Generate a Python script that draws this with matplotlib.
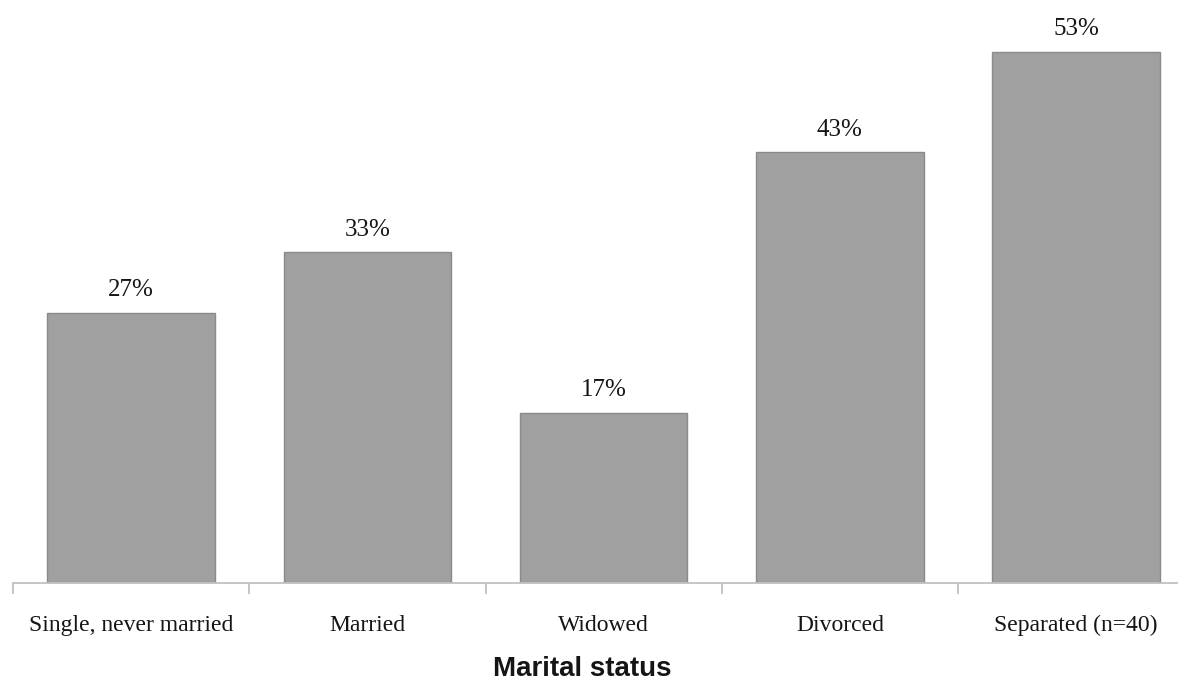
import matplotlib
matplotlib.use("Agg")
import matplotlib.pyplot as plt
from matplotlib.ticker import FixedLocator

categories = ["Single, never married", "Married", "Widowed", "Divorced", "Separated (n=40)"]
values = [27, 33, 17, 43, 53]
value_labels = ["27%", "33%", "17%", "43%", "53%"]
xlabel = "Marital status"

W, H = 1178, 681
fig = plt.figure(figsize=(W / 100, H / 100), dpi=100)
ax = fig.add_axes([13 / W, (H - 583) / H, (W - 13) / W, 583 / H])

x = list(range(len(categories)))
bars = ax.bar(x, values, width=0.71, color="#a0a0a0", edgecolor="#8a8a8a", linewidth=1.0, zorder=2)

serif = ["Liberation Serif", "DejaVu Serif"]
for xi, v, lab in zip(x, values, value_labels):
    ax.annotate(lab, (xi, v), xytext=(0, 12), textcoords="offset points",
                ha="center", va="baseline", fontsize=18, family=serif, color="#151515")

ax.set_xlim(-0.5, -0.5 + (W - 13) / 236.25)
ax.set_ylim(0, 58.2)

for s in ["top", "right", "left"]:
    ax.spines[s].set_visible(False)
ax.spines["bottom"].set_color("#c0c0c0")
ax.spines["bottom"].set_linewidth(1.3)
ax.set_yticks([])

ax.set_xticks(x)
ax.set_xticklabels(categories, fontsize=17, family=serif, color="#151515")
ax.tick_params(axis="x", which="major", length=0, pad=23)
ax.xaxis.set_minor_locator(FixedLocator([i - 0.5 for i in range(len(categories) + 1)]))
ax.tick_params(axis="x", which="minor", length=8, width=1.3, color="#c0c0c0", direction="out")

fig.text(582 / W, 1 - 676 / H, xlabel, ha="center", va="baseline", fontsize=20,
         fontweight="bold", family=["Liberation Sans", "DejaVu Sans"], color="#151515")

fig.savefig("out.png", dpi=100, facecolor="white")
